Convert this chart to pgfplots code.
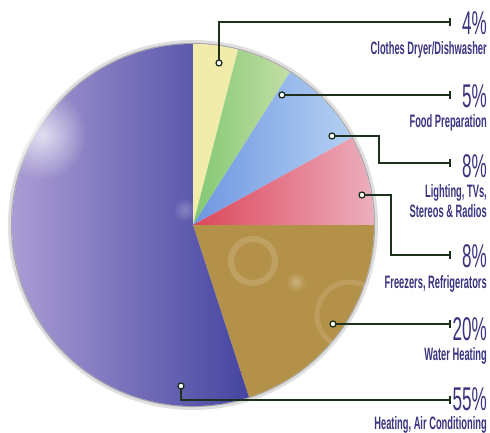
\documentclass[border=0pt]{standalone}
\usepackage{pgfplots}
\pgfplotsset{compat=1.18}
\usepackage{fontspec}
\setmainfont{Liberation Sans}[FakeStretch=0.52]
\usetikzlibrary{fadings}
\tikzfading[name=fade out, inner color=transparent!0, outer color=transparent!100]

\definecolor{txt}{RGB}{58,52,128}
\definecolor{lead}{RGB}{28,48,28}
\definecolor{cyel}{RGB}{241,236,170}
\definecolor{cgrnA}{RGB}{130,200,115}
\definecolor{cgrnB}{RGB}{195,222,165}
\definecolor{cbluA}{RGB}{110,150,225}
\definecolor{cbluB}{RGB}{180,208,242}
\definecolor{credA}{RGB}{220,70,90}
\definecolor{credB}{RGB}{236,175,190}
\definecolor{cbrn}{RGB}{180,145,72}
\definecolor{cnavA}{RGB}{175,160,215}
\definecolor{cnavB}{RGB}{68,68,160}

% slice: start angle, percent, style
\newcommand\slice[3]{%
  \path[#3] (axis cs:193,225) -- ++(#1:181bp)
    arc[start angle=#1, delta angle=-3.6*#2, radius=181bp] -- cycle;}

% big percentage at baseline #1, caption at baseline #3
\newcommand\biglab[3]{%
  \node[anchor=base east, text=txt, inner sep=0pt] at (axis cs:487,#1)
    {\fontsize{33}{33}\selectfont #2};
  \node[anchor=base east, text=txt, inner sep=0pt, align=right,
    font=\fontsize{18}{20}\selectfont\bfseries] at (axis cs:487,#3)}

\begin{document}
\begin{tikzpicture}
\begin{axis}[
  at={(0,0)}, anchor=south west,
  scale only axis, width=490bp, height=433bp,
  xmin=0, xmax=490, ymin=0, ymax=433, y dir=reverse,
  hide axis, clip=false,
  cycle list={{lead, line width=2bp, mark=none}},
]
% soft shadow round the pie
\draw[gray, opacity=0.25, line width=4bp] (axis cs:193,225) circle (183bp);
\draw[gray!80!black, opacity=0.45, line width=1.2bp] (axis cs:193,225) circle (181.5bp);

% slices, clockwise from the top: 4, 5, 8, 8, 20, 55 %
\slice{90}{4}{fill=cyel}
\slice{75.6}{5}{left color=cgrnA, right color=cgrnB}
\slice{57.6}{8}{left color=cbluA, right color=cbluB}
\slice{28.8}{8}{left color=credA, right color=credB}
\slice{0}{20}{fill=cbrn}
\slice{-72}{55}{left color=cnavA, right color=cnavB}

% flares
\fill[white, opacity=0.7, path fading=fade out] (axis cs:42,135) circle (45bp);
\fill[white, opacity=0.25, path fading=fade out] (axis cs:185,210) circle (12bp);
\draw[white, opacity=0.15, line width=6bp] (axis cs:253,261) circle (22bp);
\fill[white, opacity=0.3, path fading=fade out] (axis cs:296,282) circle (10bp);
\draw[white, opacity=0.12, line width=5bp] (axis cs:350,315) circle (33bp);

% leader lines
\addplot[lead, line width=2bp] coordinates {(219,63) (219,22) (450,22)};
\addplot[lead, line width=2bp] coordinates {(282,95) (450,95)};
\addplot[lead, line width=2bp] coordinates {(332,136) (379,136) (379,163) (450,163)};
\addplot[lead, line width=2bp] coordinates {(362,195) (391,195) (391,255) (450,255)};
\addplot[lead, line width=2bp] coordinates {(333,324) (450,324)};
\addplot[lead, line width=2bp] coordinates {(181,386) (181,400) (450,400)};
% end ticks
\addplot[lead, line width=2bp] coordinates {(450,18) (450,26)};
\addplot[lead, line width=2bp] coordinates {(450,91) (450,99)};
\addplot[lead, line width=2bp] coordinates {(450,159) (450,167)};
\addplot[lead, line width=2bp] coordinates {(450,251) (450,259)};
\addplot[lead, line width=2bp] coordinates {(450,320) (450,328)};
\addplot[lead, line width=2bp] coordinates {(450,396) (450,404)};
% dots
\addplot[only marks, mark=*, mark size=3bp, line width=1.3bp,
  mark options={draw=lead, fill=white}]
  coordinates {(219,63) (282,95) (332,136) (362,195) (333,324) (181,386)};

% labels
\biglab{35}{4\%}{55}{Clothes Dryer/Dishwasher};
\biglab{107}{5\%}{127}{Food Preparation};
\biglab{177}{8\%}{217}{Lighting, TVs,\\Stereos \& Radios};
\biglab{267}{8\%}{288}{Freezers, Refrigerators};
\biglab{340}{20\%}{360}{Water Heating};
\biglab{410.5}{55\%}{429}{Heating, Air Conditioning};
\end{axis}
\pgfresetboundingbox
\path (0,0) rectangle (490bp,433bp);
\end{tikzpicture}
\end{document}
